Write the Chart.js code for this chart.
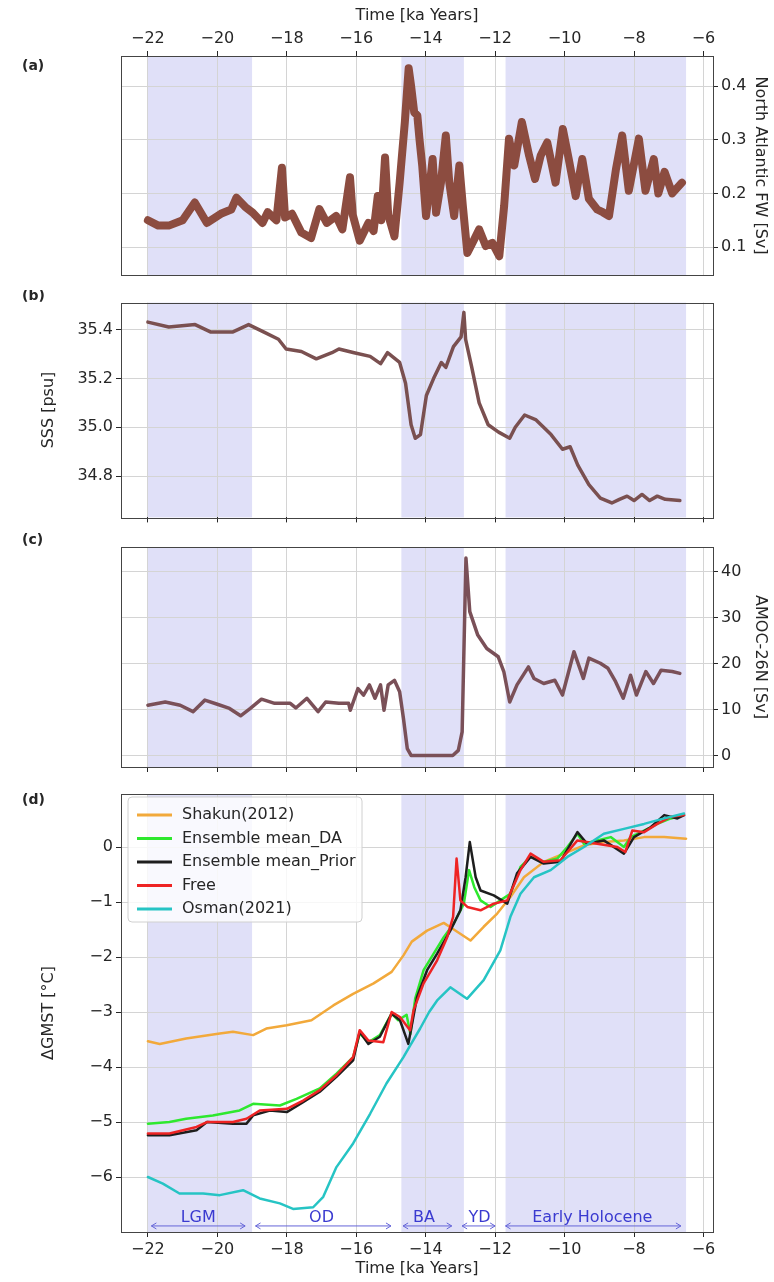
<!DOCTYPE html>
<html>
<head>
<meta charset="utf-8">
<script src="https://cdn.jsdelivr.net/npm/chart.js@4.4.1/dist/chart.umd.min.js"></script>
<style>
  html, body { margin: 0; padding: 0; background: #fff; }
  #fig { position: relative; width: 774px; height: 1282px; }
  #fig canvas { position: absolute; left: 0; }
</style>
</head>
<body>
<div id="fig">
  <canvas id="panelA" width="774" height="290" style="top:0"></canvas>
  <canvas id="panelB" width="774" height="240" style="top:290px"></canvas>
  <canvas id="panelC" width="774" height="250" style="top:530px"></canvas>
  <canvas id="panelD" width="774" height="502" style="top:780px"></canvas>
</div>
<script>
// ======= Axis ticks =======
const timeTicks = [-22, -20, -18, -16, -14, -12, -10, -8, -6];
const fwTicks = [0.1, 0.2, 0.3, 0.4];
const sssTicks = [34.8, 35.0, 35.2, 35.4];
const amocTicks = [0, 10, 20, 30, 40];
const gmstTicks = [-6, -5, -4, -3, -2, -1, 0];

// ======= Climate periods (ka) =======
const shadeStart = [-22, -14.7, -11.7];
const shadeEnd   = [-19, -12.9, -6.5];
const periodNames = ['LGM', 'OD', 'BA', 'YD', 'Early Holocene'];
const periodFrom  = [-21.9, -18.9, -14.65, -12.95, -11.7];
const periodTo    = [-19.2, -15.0, -13.25, -12.0, -6.65];
const periodMid   = [-20.55, -17.0, -14.05, -12.45, -9.2];

// ======= (a) North Atlantic freshwater flux [Sv] =======
const fwTime = [
  -22.0, -21.7, -21.4, -21.0, -20.65, -20.3, -19.9, -19.6, -19.45, -19.2,
  -18.98, -18.7, -18.55, -18.3, -18.14, -18.05, -17.85, -17.58, -17.3, -17.06,
  -16.85, -16.58, -16.4, -16.18, -16.1, -15.9, -15.65, -15.5, -15.38, -15.28,
  -15.17, -15.08, -14.9, -14.75, -14.6, -14.49, -14.42, -14.33, -14.24, -14.18,
  -14.1, -13.99, -13.9, -13.8, -13.7, -13.56, -13.42, -13.32, -13.18, -13.03,
  -12.93, -12.8, -12.65, -12.46, -12.27, -12.08, -11.88, -11.74, -11.6, -11.45,
  -11.23, -11.02, -10.85, -10.69, -10.5, -10.26, -10.05, -9.88, -9.68, -9.49,
  -9.3, -9.06, -8.9, -8.72, -8.52, -8.34, -8.15, -7.86, -7.67, -7.43,
  -7.3, -7.12, -6.9, -6.62
];
const fwValues = [
  0.150, 0.140, 0.140, 0.150, 0.183, 0.145, 0.162, 0.170, 0.192, 0.175,
  0.164, 0.145, 0.165, 0.150, 0.248, 0.155, 0.162, 0.127, 0.117, 0.171,
  0.145, 0.158, 0.133, 0.230, 0.160, 0.112, 0.145, 0.130, 0.195, 0.150,
  0.267, 0.160, 0.120, 0.220, 0.333, 0.433, 0.400, 0.351, 0.345, 0.302,
  0.252, 0.158, 0.205, 0.264, 0.164, 0.220, 0.308, 0.220, 0.158, 0.252,
  0.177, 0.089, 0.108, 0.133, 0.102, 0.108, 0.083, 0.177, 0.302, 0.252,
  0.333, 0.270, 0.227, 0.270, 0.295, 0.220, 0.320, 0.264, 0.195, 0.264,
  0.190, 0.170, 0.165, 0.158, 0.245, 0.308, 0.205, 0.302, 0.205, 0.264,
  0.200, 0.240, 0.200, 0.220
];

// ======= (b) sea surface salinity [psu] =======
const sssTime = [
  -22.0, -21.4, -20.64, -20.2, -19.55, -19.1, -18.67, -18.24, -18.02, -17.58,
  -17.15, -16.7, -16.5, -16.06, -15.6, -15.3, -15.1, -14.75, -14.58, -14.42,
  -14.3, -14.15, -13.98, -13.77, -13.55, -13.42, -13.2, -12.98, -12.9, -12.85,
  -12.68, -12.46, -12.2, -11.9, -11.58, -11.42, -11.15, -10.82, -10.39, -10.06,
  -9.84, -9.62, -9.3, -8.97, -8.64, -8.42, -8.2, -8.0, -7.77, -7.55,
  -7.33, -7.1, -6.68
];
const sssValues = [
  35.43, 35.41, 35.42, 35.39, 35.39, 35.42, 35.39, 35.36, 35.32, 35.31,
  35.28, 35.305, 35.32, 35.305, 35.29, 35.26, 35.305, 35.265, 35.18, 35.01,
  34.955, 34.97, 35.13, 35.2, 35.265, 35.245, 35.33, 35.37, 35.47, 35.36,
  35.25, 35.10, 35.01, 34.98, 34.955, 35.0, 35.05, 35.03, 34.97, 34.91,
  34.92, 34.845, 34.765, 34.71, 34.69, 34.705, 34.718, 34.7, 34.725, 34.7,
  34.718, 34.705, 34.7
];

// ======= (c) AMOC at 26N [Sv] =======
const amocTime = [
  -22.0, -21.5, -21.07, -20.7, -20.36, -20.0, -19.65, -19.33, -19.05, -18.73,
  -18.35, -17.9, -17.74, -17.42, -17.1, -16.88, -16.5, -16.22, -16.17, -15.95,
  -15.79, -15.62, -15.46, -15.3, -15.2, -15.08, -14.9, -14.75, -14.64, -14.53,
  -14.42, -13.22, -13.06, -12.95, -12.84, -12.73, -12.5, -12.24, -11.91, -11.75,
  -11.58, -11.37, -11.04, -10.88, -10.6, -10.28, -10.06, -9.73, -9.46, -9.3,
  -8.97, -8.75, -8.53, -8.31, -8.1, -7.93, -7.66, -7.44, -7.22, -6.9,
  -6.68
];
const amocValues = [
  11.0, 11.7, 11.0, 9.6, 12.1, 11.2, 10.3, 8.7, 10.3, 12.3,
  11.4, 11.4, 10.4, 12.5, 9.6, 11.7, 11.4, 11.4, 9.9, 14.6,
  13.2, 15.4, 12.5, 15.4, 9.9, 15.4, 16.4, 13.9, 8.1, 1.6,
  0.1, 0.1, 1.2, 5.2, 42.9, 31.3, 26.2, 23.3, 21.5, 18.3,
  11.7, 15.4, 19.3, 16.8, 15.7, 16.4, 13.2, 22.6, 16.8, 21.2,
  20.1, 19.0, 16.1, 12.5, 17.5, 13.2, 18.3, 15.7, 18.6, 18.3,
  17.9
];

// ======= (d) global mean surface temperature anomaly [°C] =======
const shakunTime = [
  -22.0, -21.66, -20.9, -19.93, -19.55, -18.97, -18.59, -18.0, -17.29, -16.66,
  -16.09, -15.5, -14.98, -14.64, -14.4, -13.96, -13.48, -13.19, -12.71, -12.33,
  -11.94, -11.56, -11.17, -10.6, -10.02, -9.44, -8.87, -8.29, -7.71, -7.13,
  -6.5
];
const shakunValues = [
  -3.53, -3.58, -3.48, -3.39, -3.36, -3.42, -3.3, -3.24, -3.15, -2.88,
  -2.67, -2.48, -2.27, -1.97, -1.72, -1.52, -1.38, -1.5, -1.70, -1.45,
  -1.21, -0.91, -0.55, -0.27, -0.12, 0.03, 0.09, 0.12, 0.18, 0.18,
  0.15
];
const daTime = [
  -22.0, -21.38, -20.9, -20.13, -19.36, -18.97, -18.2, -17.72, -17.05, -16.57,
  -16.09, -15.9, -15.65, -15.32, -14.98, -14.79, -14.55, -14.44, -14.3, -14.06,
  -13.77, -13.48, -13.19, -12.9, -12.75, -12.6, -12.42, -12.13, -11.85, -11.56,
  -11.27, -10.98, -10.6, -10.21, -9.92, -9.63, -9.44, -9.06, -8.67, -8.29,
  -8.1, -7.71, -7.33, -6.94, -6.56
];
const daValues = [
  -5.03, -5.0, -4.94, -4.88, -4.79, -4.67, -4.7, -4.58, -4.39, -4.12,
  -3.82, -3.39, -3.55, -3.42, -3.03, -3.15, -3.05, -3.4, -2.75, -2.24,
  -1.94, -1.64, -1.39, -1.03, -0.42, -0.73, -0.97, -1.09, -0.97, -0.85,
  -0.36, -0.18, -0.27, -0.21, 0.0, 0.24, 0.06, 0.12, 0.18, 0.0,
  0.18, 0.3, 0.42, 0.52, 0.58
];
const priorTime = [
  -22.0, -21.38, -20.6, -20.3, -19.55, -19.16, -18.97, -18.49, -18.0, -17.53,
  -17.05, -16.57, -16.09, -15.9, -15.65, -15.32, -14.98, -14.74, -14.5, -14.25,
  -13.96, -13.67, -13.29, -13.0, -12.85, -12.73, -12.56, -12.42, -12.04, -11.65,
  -11.37, -10.98, -10.6, -10.12, -9.63, -9.35, -8.87, -8.29, -8.0, -7.52,
  -7.13, -6.75, -6.56
];
const priorValues = [
  -5.24, -5.24, -5.15, -5.0, -5.03, -5.03, -4.88, -4.79, -4.82, -4.64,
  -4.45, -4.18, -3.88, -3.36, -3.58, -3.45, -3.03, -3.15, -3.58, -2.73,
  -2.24, -1.94, -1.52, -1.15, -0.55, 0.09, -0.55, -0.79, -0.88, -1.03,
  -0.48, -0.18, -0.3, -0.27, 0.27, 0.06, 0.12, -0.12, 0.18, 0.36,
  0.58, 0.52, 0.58
];
const freeTime = [
  -22.0, -21.38, -20.6, -20.3, -19.55, -19.16, -18.78, -18.0, -17.53, -17.05,
  -16.57, -16.09, -15.9, -15.65, -15.22, -14.98, -14.74, -14.45, -14.35, -14.06,
  -13.67, -13.38, -13.21, -13.11, -13.0, -12.8, -12.42, -12.04, -11.65, -11.27,
  -10.98, -10.6, -10.12, -9.63, -9.06, -8.48, -8.25, -8.05, -7.71, -7.33,
  -6.94, -6.56
];
const freeValues = [
  -5.21, -5.21, -5.09, -5.0, -5.0, -4.94, -4.79, -4.76, -4.61, -4.42,
  -4.15, -3.82, -3.33, -3.52, -3.55, -3.0, -3.09, -3.33, -2.97, -2.48,
  -2.06, -1.64, -1.27, -0.21, -0.97, -1.09, -1.15, -1.03, -0.97, -0.42,
  -0.12, -0.27, -0.24, 0.12, 0.06, 0.0, -0.09, 0.3, 0.27, 0.42,
  0.55, 0.58
];
const osmanTime = [
  -22.0, -21.57, -21.09, -20.41, -19.93, -19.26, -18.78, -18.2, -17.82, -17.24,
  -16.95, -16.57, -16.09, -15.6, -15.13, -14.64, -14.44, -14.16, -13.9, -13.67,
  -13.29, -12.81, -12.33, -11.85, -11.56, -11.27, -10.88, -10.4, -9.92, -9.44,
  -8.87, -8.29, -7.71, -7.13, -6.56
];
const osmanValues = [
  -6.0, -6.12, -6.3, -6.3, -6.33, -6.24, -6.39, -6.48, -6.58, -6.55,
  -6.36, -5.82, -5.39, -4.85, -4.3, -3.82, -3.6, -3.3, -3.0, -2.79,
  -2.55, -2.76, -2.42, -1.88, -1.27, -0.85, -0.55, -0.42, -0.18, 0.0,
  0.24, 0.33, 0.42, 0.52, 0.61
];

// ======= Style =======
const FONT = "'DejaVu Sans', sans-serif";
const INK = '#262626';
const GRID = '#d4d4d4';
const SHADE = '#e0e0f8';
const PERIOD_INK = '#3a3ad0';
const X_MIN = -22.775, X_MAX = -5.725;
const ARROW_Y = -6.89, LABEL_Y = -6.74;

Chart.defaults.font.family = FONT;
Chart.defaults.font.size = 16;
Chart.defaults.color = INK;

// ======= Helpers =======
const zip = (t, v) => t.map((x, i) => ({ x, y: v[i] }));
const fmtNeg = v => (v < 0 ? '\u2212' + Math.abs(v) : String(v));
const fixW = w => s => { s.width = w; };
const fixH = h => s => { s.height = h; };
const setTicks = arr => s => { s.ticks = arr.map(value => ({ value })); };

function xScale(position, height, showLabels, title) {
  return {
    type: 'linear', position, min: X_MIN, max: X_MAX,
    afterBuildTicks: setTicks(timeTicks),
    afterFit: fixH(height),
    grid: { color: GRID, tickColor: INK, tickLength: 5 },
    border: { display: false },
    ticks: { padding: 3, autoSkip: false, maxRotation: 0,
             callback: v => (showLabels ? fmtNeg(v) : '') },
    title: { display: !!title, text: title || '', padding: { top: 4, bottom: 4 } }
  };
}
function yScale(position, width, min, max, ticks, fmt, title) {
  return {
    type: 'linear', position, min, max,
    afterBuildTicks: setTicks(ticks),
    afterFit: fixW(width),
    grid: { color: GRID, tickColor: INK, tickLength: 5 },
    border: { display: false },
    ticks: { padding: 3, autoSkip: false, callback: fmt },
    title: { display: true, text: title, padding: { top: 4, bottom: 4 } }
  };
}
function line(label, data, color, width) {
  return {
    label, data, borderColor: color, backgroundColor: color, borderWidth: width,
    pointRadius: 0, tension: 0, borderJoinStyle: 'round', borderCapStyle: 'round', fill: false
  };
}

// period shading under the grid, frame and panel letter on top
const framePlugin = {
  id: 'frame',
  beforeDraw(chart) {
    const { ctx, chartArea: a, scales: { x } } = chart;
    ctx.save();
    ctx.fillStyle = SHADE;
    shadeStart.forEach((s, i) => {
      const x0 = x.getPixelForValue(s), x1 = x.getPixelForValue(shadeEnd[i]);
      ctx.fillRect(x0, a.top, x1 - x0, a.bottom - a.top);
    });
    ctx.restore();
  },
  afterDraw(chart, args, opts) {
    const { ctx, chartArea: a } = chart;
    ctx.save();
    ctx.strokeStyle = '#444';
    ctx.lineWidth = 1;
    ctx.strokeRect(Math.round(a.left) + 0.5, Math.round(a.top) + 0.5,
                   Math.round(a.right - a.left), Math.round(a.bottom - a.top));
    ctx.fillStyle = INK;
    ctx.font = 'bold 14px ' + FONT;
    ctx.textBaseline = 'middle';
    ctx.fillText(opts.label, 22, opts.labelY);
    ctx.restore();
  }
};

// legend inside the upper-left corner of (d)
const legendBox = {
  id: 'legendBox',
  afterDraw(chart) {
    const { ctx, chartArea: a } = chart;
    const x0 = a.left + 7, y0 = a.top + 3, w = 234, h = 125;
    ctx.save();
    ctx.beginPath();
    ctx.roundRect(x0, y0, w, h, 4);
    ctx.fillStyle = 'rgba(255,255,255,0.8)';
    ctx.fill();
    ctx.strokeStyle = '#d0d0d0';
    ctx.lineWidth = 1;
    ctx.stroke();
    ctx.font = '16px ' + FONT;
    ctx.textBaseline = 'middle';
    chart.data.datasets.forEach((ds, i) => {
      const y = y0 + 18 + i * 23.5;
      ctx.strokeStyle = ds.borderColor;
      ctx.lineWidth = 3;
      ctx.beginPath();
      ctx.moveTo(x0 + 9, y);
      ctx.lineTo(x0 + 44, y);
      ctx.stroke();
      ctx.fillStyle = INK;
      ctx.fillText(ds.label, x0 + 54, y);
    });
    ctx.restore();
  }
};

// double-headed period arrows along the bottom of (d)
const periodArrows = {
  id: 'periodArrows',
  afterDatasetsDraw(chart) {
    const { ctx, scales: { x, y } } = chart;
    const ya = y.getPixelForValue(ARROW_Y), yt = y.getPixelForValue(LABEL_Y);
    ctx.save();
    ctx.strokeStyle = '#6464d8';
    ctx.lineWidth = 1;
    periodNames.forEach((name, i) => {
      const x0 = x.getPixelForValue(periodFrom[i]), x1 = x.getPixelForValue(periodTo[i]);
      ctx.beginPath();
      ctx.moveTo(x0, ya); ctx.lineTo(x1, ya);
      ctx.moveTo(x0 + 5, ya - 3); ctx.lineTo(x0, ya); ctx.lineTo(x0 + 5, ya + 3);
      ctx.moveTo(x1 - 5, ya - 3); ctx.lineTo(x1, ya); ctx.lineTo(x1 - 5, ya + 3);
      ctx.stroke();
      ctx.fillStyle = PERIOD_INK;
      ctx.font = '16px ' + FONT;
      ctx.textAlign = 'center';
      ctx.textBaseline = 'middle';
      ctx.fillText(name, x.getPixelForValue(periodMid[i]), yt);
    });
    ctx.restore();
  }
};

const baseOptions = (scales, padding, label, labelY) => ({
  responsive: false,
  animation: false,
  layout: { padding },
  scales,
  plugins: { legend: { display: false }, tooltip: { enabled: false }, frame: { label, labelY } }
});

// ======= (a) =======
new Chart(document.getElementById('panelA'), {
  type: 'line',
  data: { datasets: [line('FW', zip(fwTime, fwValues), '#8c4c40', 8)] },
  options: baseOptions({
    x: xScale('top', 54, true, 'Time [ka Years]'),
    y: yScale('right', 61, 0.048, 0.456, fwTicks, v => v.toFixed(1), 'North Atlantic FW [Sv]')
  }, { left: 121, top: 2, bottom: 15, right: 0 }, '(a)', 66),
  plugins: [framePlugin]
});

// ======= (b) =======
new Chart(document.getElementById('panelB'), {
  type: 'line',
  data: { datasets: [line('SSS', zip(sssTime, sssValues), '#7a5050', 3.5)] },
  options: baseOptions({
    x: xScale('bottom', 10, false),
    y: yScale('left', 86, 34.631, 35.51, sssTicks, v => v.toFixed(1), 'SSS [psu]')
  }, { left: 35, top: 12, bottom: 0, right: 61 }, '(b)', 6),
  plugins: [framePlugin]
});

// ======= (c) =======
new Chart(document.getElementById('panelC'), {
  type: 'line',
  data: { datasets: [line('AMOC', zip(amocTime, amocValues), '#7a5058', 3.5)] },
  options: baseOptions({
    x: xScale('bottom', 13, false),
    y: yScale('right', 61, -2.4, 45.3, amocTicks, v => String(v), 'AMOC-26N [Sv]')
  }, { left: 121, top: 17, bottom: 0, right: 0 }, '(c)', 10),
  plugins: [framePlugin]
});

// ======= (d) =======
const gmstSets = [
  line('Shakun(2012)', zip(shakunTime, shakunValues), '#f2a93b', 2.5),
  line('Ensemble mean_DA', zip(daTime, daValues), '#2ee82e', 2.5),
  line('Ensemble mean_Prior', zip(priorTime, priorValues), '#1e1e1e', 2.5),
  line('Free', zip(freeTime, freeValues), '#ee2424', 2.5),
  line('Osman(2021)', zip(osmanTime, osmanValues), '#26c4c4', 2.5)
];
// later series sit on top
gmstSets.forEach((ds, i) => { ds.order = gmstSets.length - i; });

new Chart(document.getElementById('panelD'), {
  type: 'line',
  data: { datasets: gmstSets },
  options: baseOptions({
    x: xScale('bottom', 50, true, 'Time [ka Years]'),
    y: yScale('left', 86, -7.0, 0.964, gmstTicks, fmtNeg, '\u0394GMST [\u00b0C]')
  }, { left: 35, top: 14, bottom: 0, right: 61 }, '(d)', 20),
  plugins: [framePlugin, periodArrows, legendBox]
});
</script>
</body>
</html>
